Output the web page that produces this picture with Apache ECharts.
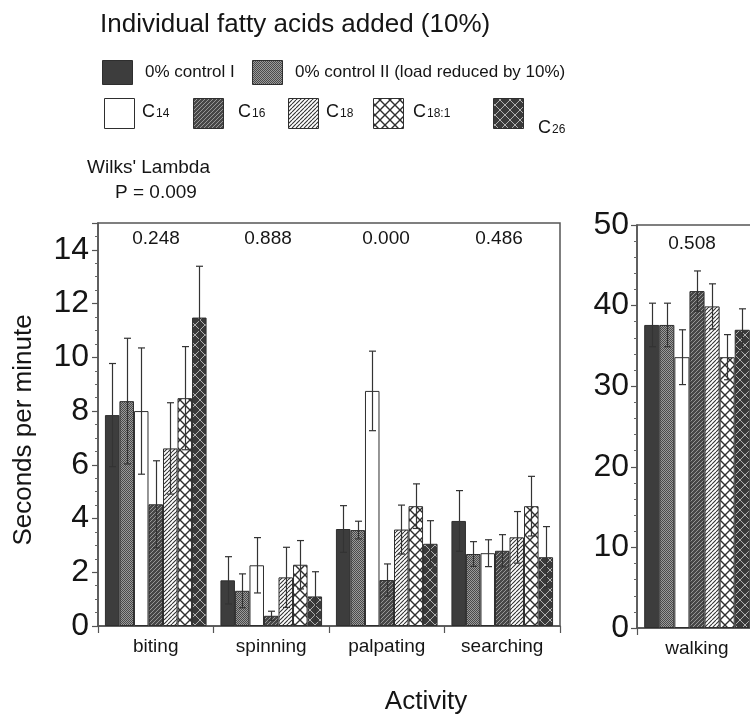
<!DOCTYPE html>
<html>
<head>
<meta charset="utf-8">
<script src="https://cdn.jsdelivr.net/npm/echarts@6/dist/echarts.min.js"></script>
<style>
  html, body { margin: 0; padding: 0; background: #fff; }
  #main { width: 750px; height: 715px; }
</style>
</head>
<body>
<div id="main"></div>
<script>
/* global echarts */
// categories
var activities = ['biting', 'spinning', 'palpating', 'searching'];
var walkingCat = ['walking'];
var seriesNames = ['0% control I', '0% control II (load reduced by 10%)', 'C14', 'C16', 'C18', 'C18:1', 'C26'];

// means / standard errors, seconds per minute (biting, spinning, palpating, searching)
var control1Mean = [7.85, 1.70, 3.61, 3.91];
var control1Err  = [1.92, 0.88, 0.87, 1.13];
var control2Mean = [8.37, 1.31, 3.57, 2.68];
var control2Err  = [2.34, 0.63, 0.33, 0.46];
var c14Mean  = [8.00, 2.26, 8.75, 2.71];
var c14Err   = [2.35, 1.03, 1.48, 0.50];
var c16Mean  = [4.53, 0.38, 1.71, 2.80];
var c16Err   = [1.62, 0.17, 0.60, 0.60];
var c18Mean  = [6.61, 1.81, 3.59, 3.30];
var c18Err   = [1.70, 1.12, 0.91, 0.96];
var c181Mean = [8.48, 2.28, 4.46, 4.46];
var c181Err  = [1.92, 0.90, 0.83, 1.11];
var c26Mean  = [11.48, 1.10, 3.06, 2.56];
var c26Err   = [1.91, 0.92, 0.86, 1.14];

// walking, one value per series
var walkingMean = [37.6, 37.6, 33.6, 41.8, 39.9, 33.6, 37.0];
var walkingErr  = [2.7, 2.7, 3.4, 2.5, 2.8, 2.8, 2.6];

// p values per activity
var pValues = ['0.248', '0.888', '0.000', '0.486'];
var pWalking = '0.508';

var leftTicks = [0, 15, 2];
var rightTicks = [0, 50, 10];

var FONT = 'Liberation Sans, Arial, Helvetica, sans-serif';
var TXT = '#151515';
var EDGE = '#2e2e2e';

// patterns
function makePattern(bg, size, draw) {
    var c = document.createElement('canvas');
    c.width = size; c.height = size;
    var ctx = c.getContext('2d');
    ctx.fillStyle = bg;
    ctx.fillRect(0, 0, size, size);
    if (draw) draw(ctx, size);
    return {image: c, repeat: 'repeat'};
}
function diag(col, w) {
    return function (ctx, s) {
        ctx.strokeStyle = col; ctx.lineWidth = w;
        ctx.beginPath();
        for (var k = -s; k <= s; k += s) {
            ctx.moveTo(k, s); ctx.lineTo(k + s, 0);
        }
        ctx.stroke();
    };
}
function cross(col, w) {
    return function (ctx, s) {
        ctx.strokeStyle = col; ctx.lineWidth = w;
        ctx.beginPath();
        ctx.moveTo(0, 0); ctx.lineTo(s, s);
        ctx.moveTo(0, s); ctx.lineTo(s, 0);
        ctx.stroke();
    };
}
var fills = [
    '#3d3d3d',
    makePattern('#9a9a9a', 2, function (ctx) { ctx.fillStyle = '#4a4a4a'; ctx.fillRect(0, 0, 1, 1); ctx.fillRect(1, 1, 1, 1); }),
    '#ffffff',
    makePattern('#474747', 4, diag('#a0a0a0', 0.9)),
    makePattern('#ffffff', 4, diag('#333333', 1.1)),
    makePattern('#ffffff', 10, cross('#2e2e2e', 1.4)),
    makePattern('#3a3a3a', 10, cross('#b0b0b0', 1))
];

var meansList = [control1Mean, control2Mean, c14Mean, c16Mean, c18Mean, c181Mean, c26Mean];
var errsList = [control1Err, control2Err, c14Err, c16Err, c18Err, c181Err, c26Err];

var CAT_GAP = 0.12;

function errRender(params, api) {
    var cat = api.value(0), s = api.value(1), m = api.value(2), e = api.value(3);
    var center = api.coord([cat, 0]);
    var band = api.size([1, 0])[0];
    var bw = band * (1 - CAT_GAP) / 7;
    var x = Math.round(center[0] + (s - 3) * bw) + 0.5;
    var top = api.coord([cat, m + e])[1];
    var bot = api.coord([cat, Math.max(m - e, 0)])[1];
    var st = {stroke: '#333', lineWidth: 1.2};
    return {type: 'group', children: [
        {type: 'line', shape: {x1: x, y1: top, x2: x, y2: bot}, style: st},
        {type: 'line', shape: {x1: x - 3.5, y1: top, x2: x + 3.5, y2: top}, style: st},
        {type: 'line', shape: {x1: x - 3.5, y1: bot, x2: x + 3.5, y2: bot}, style: st}
    ]};
}

var series = [];
var errLeft = [], errRight = [];
for (var i = 0; i < 7; i++) {
    series.push({
        name: seriesNames[i], type: 'bar', xAxisIndex: 0, yAxisIndex: 0,
        barGap: '0%', barCategoryGap: (CAT_GAP * 100) + '%',
        itemStyle: {color: fills[i], borderColor: EDGE, borderWidth: 1},
        data: meansList[i], silent: true
    });
    for (var j = 0; j < activities.length; j++) {
        errLeft.push([j, i, meansList[i][j], errsList[i][j]]);
    }
}
for (var i = 0; i < 7; i++) {
    series.push({
        name: seriesNames[i], type: 'bar', xAxisIndex: 1, yAxisIndex: 1,
        barGap: '0%', barCategoryGap: (CAT_GAP * 100) + '%',
        itemStyle: {color: fills[i], borderColor: EDGE, borderWidth: 1},
        data: [walkingMean[i]], silent: true
    });
    errRight.push([0, i, walkingMean[i], walkingErr[i]]);
}
series.push({type: 'custom', xAxisIndex: 0, yAxisIndex: 0, renderItem: errRender,
    encode: {x: 0, y: 2}, data: errLeft, z: 10, silent: true});
series.push({type: 'custom', xAxisIndex: 1, yAxisIndex: 1, renderItem: errRender,
    encode: {x: 0, y: 2}, data: errRight, z: 10, silent: true});

function yAxisOf(idx, ticks, minorSplit, margin) {
    return {
        type: 'value', gridIndex: idx, min: ticks[0], max: ticks[1], interval: ticks[2],
        axisLine: {show: true, lineStyle: {color: '#555', width: 1.5}},
        axisTick: {show: true, inside: false, length: 6, lineStyle: {color: '#555', width: 1.2}},
        minorTick: {show: true, splitNumber: minorSplit, length: 3, lineStyle: {color: '#666', width: 1}},
        splitLine: {show: false},
        axisLabel: {fontSize: 32, color: TXT, fontFamily: FONT, margin: margin, showMaxLabel: idx === 1}
    };
}
function xAxisOf(idx, cats) {
    return {
        type: 'category', gridIndex: idx, data: cats,
        axisLine: {show: true, lineStyle: {color: '#555', width: 1.5}},
        axisTick: {show: true, inside: false, length: 7, alignWithLabel: false, lineStyle: {color: '#555', width: 1.2}},
        axisLabel: {fontSize: 19, color: TXT, fontFamily: FONT, margin: 11}
    };
}

var graphics = [
    {type: 'text', left: 100, top: 12, style: {text: 'Individual fatty acids added (10%)', font: '26px ' + FONT, fill: TXT}},
    {type: 'text', x: 87, y: 168, style: {text: "Wilks' Lambda", font: '19px ' + FONT, fill: TXT, textVerticalAlign: 'middle'}},
    {type: 'text', x: 115, y: 193, style: {text: 'P = 0.009', font: '19px ' + FONT, fill: TXT, textVerticalAlign: 'middle'}},
    {type: 'text', x: 24, y: 430, rotation: Math.PI / 2, style: {text: 'Seconds per minute', font: '26px ' + FONT, fill: TXT, textAlign: 'center', textVerticalAlign: 'middle'}},
    {type: 'text', x: 426, y: 702, style: {text: 'Activity', font: '26px ' + FONT, fill: TXT, textAlign: 'center', textVerticalAlign: 'middle'}}
];
var pX = [156, 268, 386, 499];
for (var k = 0; k < pValues.length; k++) {
    graphics.push({type: 'text', x: pX[k], y: 239, style: {text: pValues[k], font: '19px ' + FONT, fill: TXT, textAlign: 'center', textVerticalAlign: 'middle'}});
}
graphics.push({type: 'text', x: 692, y: 244, style: {text: pWalking, font: '19px ' + FONT, fill: TXT, textAlign: 'center', textVerticalAlign: 'middle'}});

// legend swatches
var swatches = [
    [102, 60, 145, 72], [252, 60, 295, 72],
    [104, 98, 142, 112], [193, 98, 238, 112], [288, 98, 326, 112], [373, 98, 413, 112], [493, 98, 538, 128]
];
var legendText = [
    '0% control I', '0% control II (load reduced by 10%)',
    '{c|C}{s|14}', '{c|C}{s|16}', '{c|C}{s|18}', '{c|C}{s|18:1}', '{c|C}{s|26}'
];
for (var k = 0; k < 7; k++) {
    var sw = swatches[k];
    graphics.push({type: 'rect', shape: {x: sw[0] + 0.5, y: sw[1] + 0.5, width: 30, height: k < 2 ? 24 : 30},
        style: {fill: fills[k], stroke: EDGE, lineWidth: 1}});
    graphics.push({type: 'text', x: sw[2], y: sw[3], style: {
        text: legendText[k], font: '17px ' + FONT, fill: TXT, textVerticalAlign: 'middle',
        rich: {c: {fontSize: 18, fontFamily: FONT, fill: TXT}, s: {fontSize: 12, fontFamily: FONT, fill: TXT, padding: [4, 0, 0, 1]}}
    }});
}

var chart = echarts.init(document.getElementById('main'), null, {renderer: 'canvas'});
chart.setOption({
    animation: false,
    backgroundColor: '#ffffff',
    textStyle: {fontFamily: FONT},
    grid: [
        {left: 98, top: 223, width: 462, height: 403, outerBoundsMode: 'none', containLabel: false,
            show: true, borderColor: '#555', borderWidth: 1.5, backgroundColor: 'transparent'},
        {left: 637, top: 225, width: 120, height: 403, outerBoundsMode: 'none', containLabel: false,
            show: true, borderColor: '#555', borderWidth: 1.5, backgroundColor: 'transparent'}
    ],
    xAxis: [xAxisOf(0, activities), xAxisOf(1, walkingCat)],
    yAxis: [yAxisOf(0, leftTicks, 4, 9), yAxisOf(1, rightTicks, 5, 8)],
    series: series,
    graphic: graphics
});
</script>
</body>
</html>
